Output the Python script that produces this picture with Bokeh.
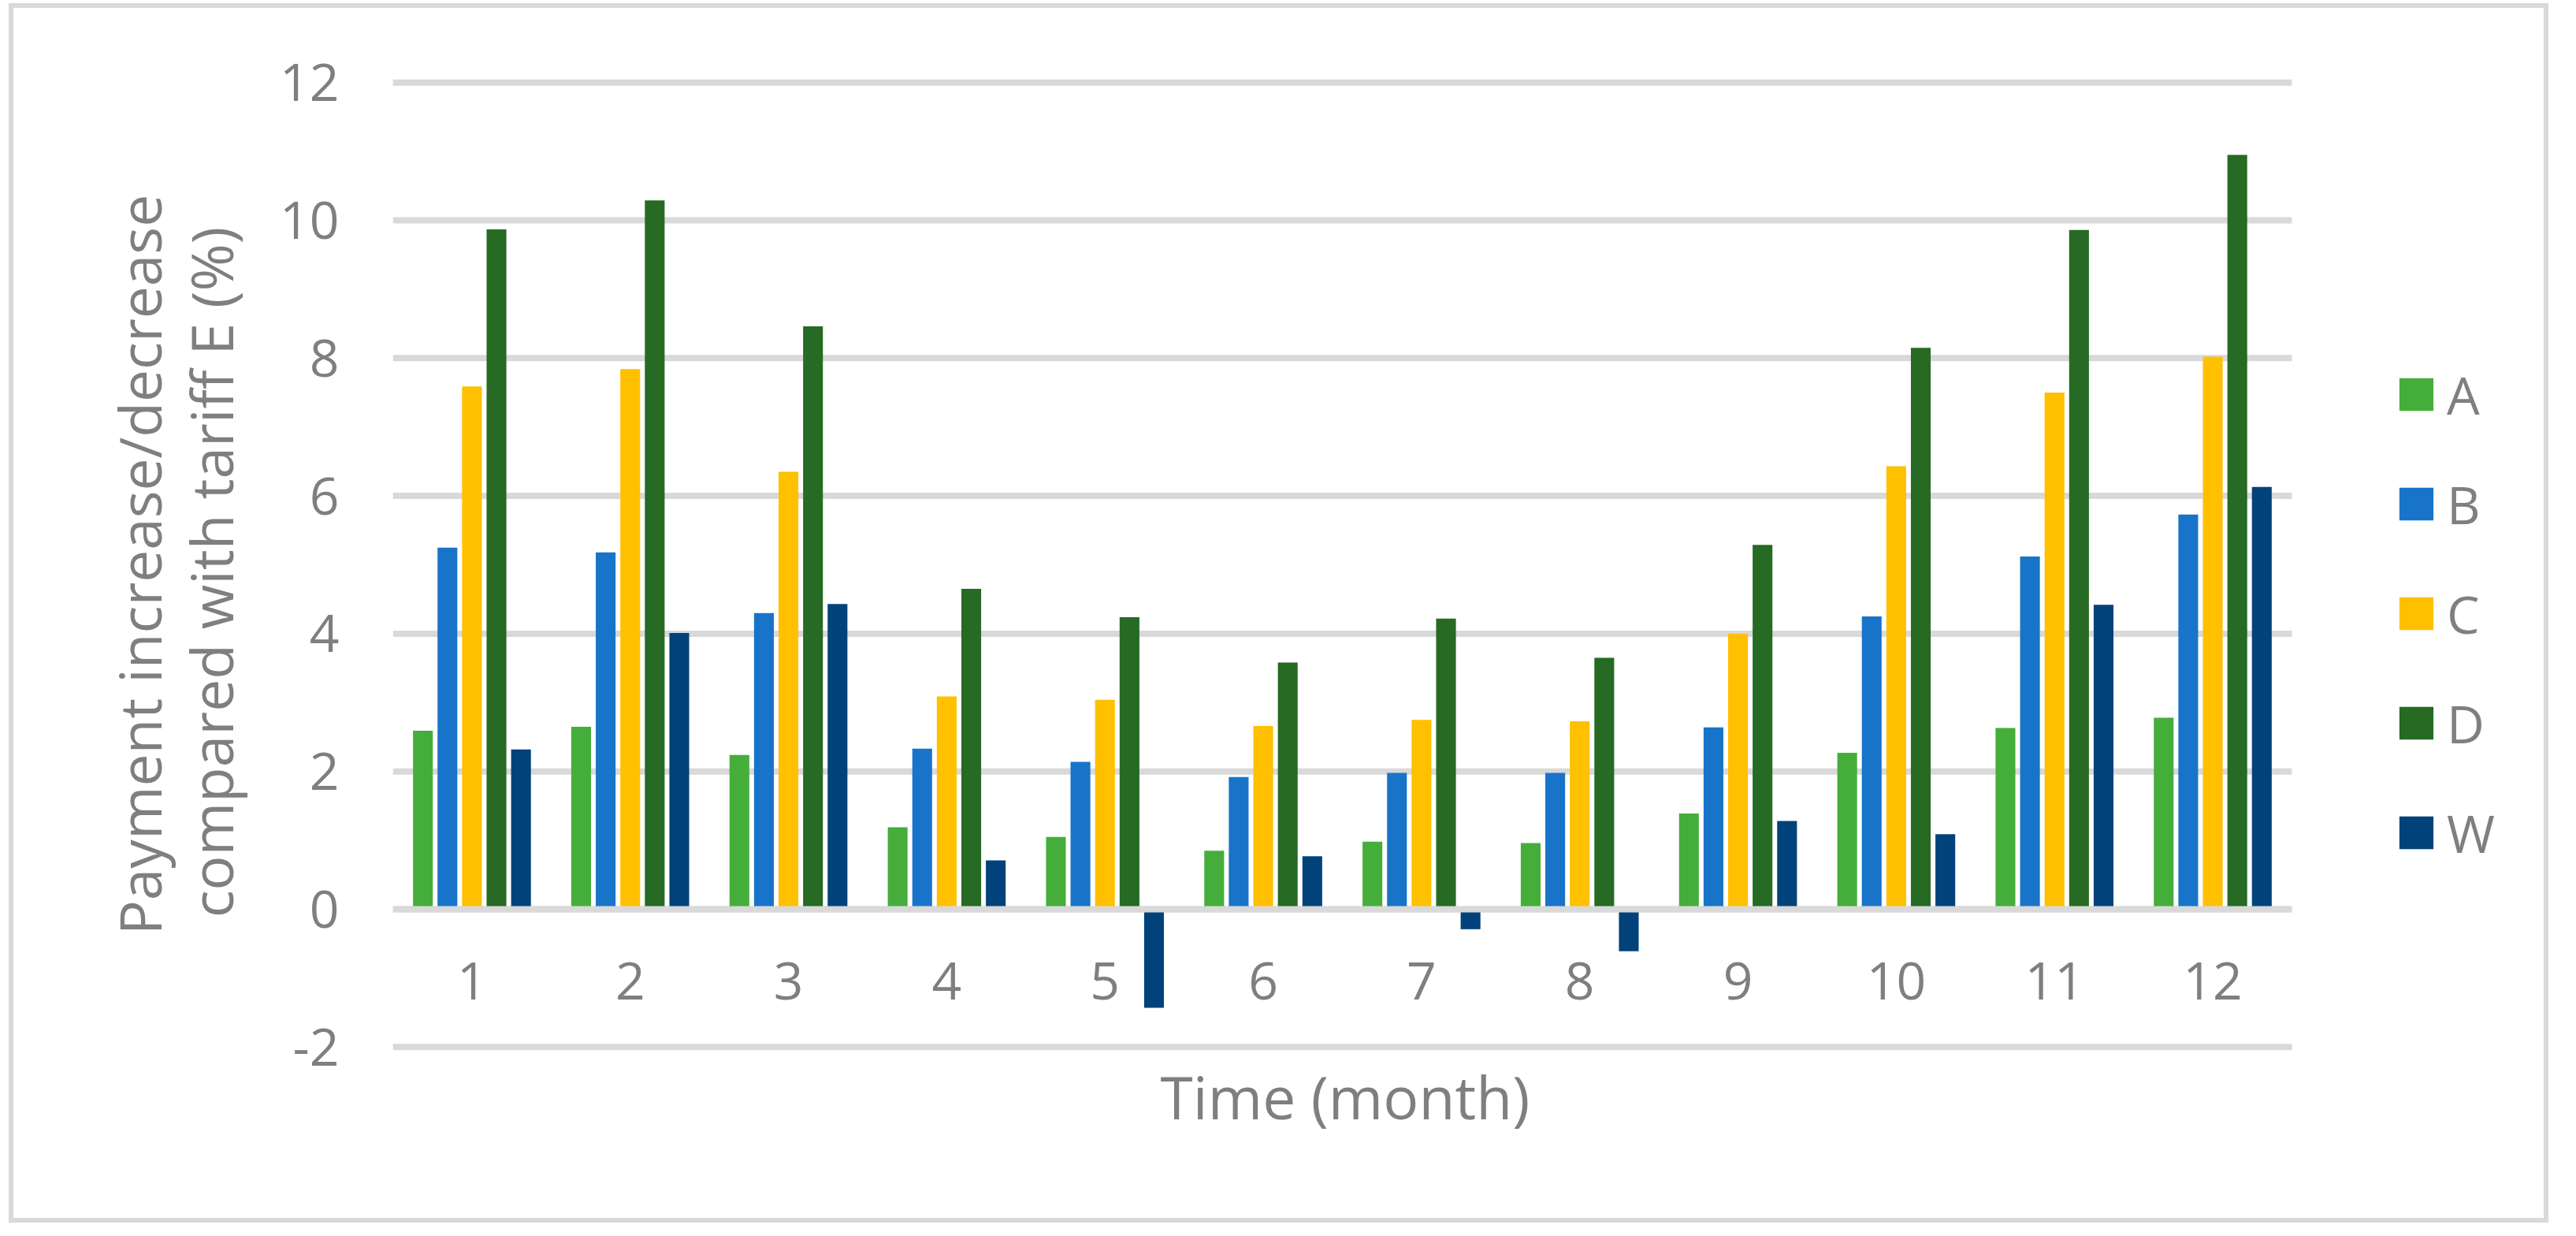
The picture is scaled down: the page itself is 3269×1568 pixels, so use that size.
from bokeh.plotting import figure
from bokeh.models import (Range1d, FixedTicker, Legend, LegendItem,
                          ColumnDataSource, Title)
from bokeh.transform import dodge
from bokeh.embed import file_html
from bokeh.resources import INLINE

# ---- data ----
months = [1, 2, 3, 4, 5, 6, 7, 8, 9, 10, 11, 12]
series_names = ["A", "B", "C", "D", "W"]
A = [2.59, 2.65, 2.24, 1.19, 1.05, 0.85, 0.98, 0.96, 1.39, 2.27, 2.63, 2.78]
B = [5.25, 5.18, 4.30, 2.33, 2.14, 1.92, 1.98, 1.98, 2.64, 4.25, 5.12, 5.73]
C = [7.59, 7.84, 6.35, 3.09, 3.04, 2.66, 2.75, 2.73, 4.00, 6.43, 7.50, 8.02]
D = [9.87, 10.29, 8.46, 4.65, 4.24, 3.58, 4.22, 3.65, 5.29, 8.15, 9.86, 10.95]
W = [2.32, 4.01, 4.43, 0.71, -1.43, 0.77, -0.29, -0.61, 1.28, 1.09, 4.42, 6.13]
y_ticks = [-2, 0, 2, 4, 6, 8, 10, 12]
y_tick_labels = {t: str(t) for t in y_ticks}   # plain hyphen for "-2"

colors = ["#45AE3A", "#1874C9", "#FFC000", "#266A23", "#02427A"]
offsets = [-0.31, -0.155, 0.0, 0.155, 0.31]
FONT = "Open Sans"
TXT = "#7F7F7F"
GRID = "#D9D9D9"

W_PX, H_PX = 3223, 1547
LEFT_PX = 481
GROUP_PX = 200.83            # pixel width of one month slot
x_lo = months[0] - 0.5
x_hi = months[-1] + 0.5
x_end = x_lo + (W_PX - LEFT_PX) / GROUP_PX   # room on the right for the legend

src = ColumnDataSource(dict(month=months, A=A, B=B, C=C, D=D, W=W))
grid_src = ColumnDataSource(dict(y=y_ticks))

p = figure(x_range=Range1d(x_lo, x_end), y_range=Range1d(-2.06, 12.06),
           width=W_PX, height=H_PX, output_backend="svg", toolbar_location=None,
           min_border_left=LEFT_PX, min_border_right=0, min_border_top=89,
           min_border_bottom=224)
p.styles = {"margin-left": "11px", "margin-top": "4px",
            "border": "6px solid #D9D9D9"}
p.outline_line_color = None
p.background_fill_color = "white"
p.border_fill_color = "white"
p.xgrid.grid_line_color = None
p.ygrid.grid_line_color = None

# horizontal gridlines limited to the month slots
p.segment(x0=x_lo, x1=x_hi, y0="y", y1="y", source=grid_src,
          line_color=GRID, line_width=8, level="underlay")

renderers = []
for name, col, off in zip(series_names, colors, offsets):
    r = p.vbar(x=dodge("month", off), top=name, bottom=0,
               width=0.125, source=src, fill_color=col, line_color=None)
    renderers.append(r)

# zero line drawn above the bars
p.segment(x0=x_lo, x1=x_hi, y0=0, y1=0, line_color=GRID, line_width=8)

# y axis
p.yaxis.ticker = FixedTicker(ticks=y_ticks)
p.yaxis.major_label_overrides = y_tick_labels
p.yaxis.axis_line_color = None
p.yaxis.major_tick_line_color = None
p.yaxis.minor_tick_line_color = None
p.yaxis.major_label_standoff = 62
p.yaxis.major_label_text_font = FONT
p.yaxis.major_label_text_font_size = "66px"
p.yaxis.major_label_text_color = TXT
p.yaxis.axis_label = "Payment increase/decrease\ncompared with  tariff E (%)"
p.yaxis.axis_label_text_font = FONT
p.yaxis.axis_label_text_font_size = "73px"
p.yaxis.axis_label_text_font_style = "normal"
p.yaxis.axis_label_text_color = TXT
p.yaxis.axis_label_text_line_height = 0.92
p.yaxis.axis_label_standoff = 35

# x axis: labels sit just under the zero line
p.xaxis.ticker = FixedTicker(ticks=months)
p.xaxis.axis_line_color = None
p.xaxis.major_tick_line_color = None
p.xaxis.minor_tick_line_color = None
p.xaxis.major_label_standoff = -119
p.xaxis.major_label_text_font = FONT
p.xaxis.major_label_text_font_size = "66px"
p.xaxis.major_label_text_color = TXT

# x-axis title, centred under the month slots (not under the legend area)
TITLE_W = 462                 # approx. rendered width of the title text
title_offset = ((x_lo + x_hi) / 2 - x_lo) * GROUP_PX - TITLE_W / 2
p.add_layout(Title(text="Time (month)", align="left", offset=title_offset,
                   standoff=8, text_font=FONT, text_font_size="75px",
                   text_font_style="normal", text_color=TXT), "below")

legend = Legend(items=[LegendItem(label=n, renderers=[r]) for n, r in zip(series_names, renderers)],
                location=(2541, 232), orientation="vertical",
                glyph_width=54, glyph_height=52, spacing=49, label_standoff=12,
                padding=0, margin=0, border_line_color=None,
                background_fill_alpha=0, label_text_font=FONT,
                label_text_font_size="66px", label_text_color=TXT)
p.add_layout(legend)

open("out.html", "w").write(file_html(p, INLINE))
